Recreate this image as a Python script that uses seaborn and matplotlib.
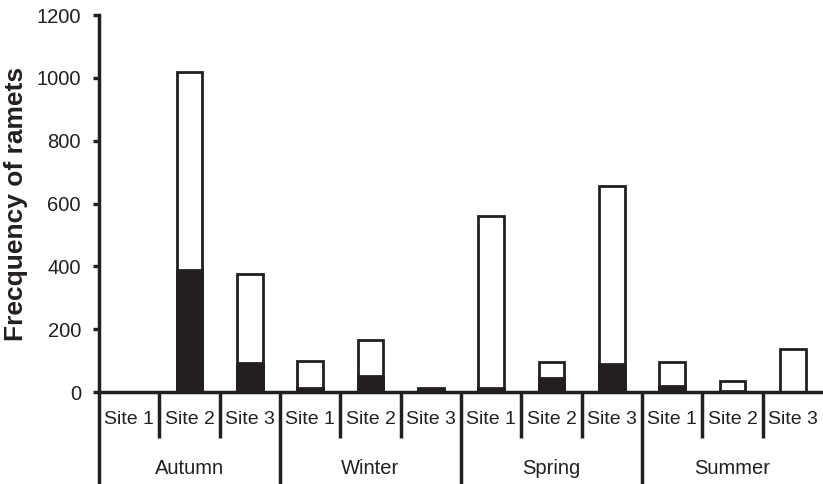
import matplotlib
matplotlib.use("Agg")
import matplotlib.pyplot as plt
import matplotlib.transforms as mtransforms
import seaborn as sns
import pandas as pd

seasons = ["Autumn", "Winter", "Spring", "Summer"]
sites = ["Site 1", "Site 2", "Site 3"]
total_ramets = [0, 1020, 375, 100, 165, 12, 560, 95, 655, 95, 35, 137]
black_ramets = [0, 390, 93, 12, 50, 10, 12, 45, 88, 20, 3, 0]
yticks = [0, 200, 400, 600, 800, 1000, 1200]

slots = [f"{s} {t}" for s in seasons for t in sites]
df = pd.DataFrame({"slot": slots, "total": total_ramets, "black": black_ramets})

sns.set_style("white")
plt.rcParams["font.family"] = ["Liberation Sans", "DejaVu Sans"]

DARK = "#231f20"
fig = plt.figure(figsize=(8.23, 4.84), dpi=100)
ax = fig.add_axes([0.1203, 0.190, 0.8797, 0.779])

sns.barplot(data=df, x="slot", y="total", order=slots, color="white",
            saturation=1, width=0.43, edgecolor=DARK, linewidth=2.0, ax=ax)
sns.barplot(data=df, x="slot", y="black", order=slots, color=DARK,
            saturation=1, width=0.43, edgecolor=DARK, linewidth=2.0, ax=ax)

n = len(slots)
ax.set_xlim(-0.5, n - 0.5)
ax.set_ylim(0, 1200)
ax.set_yticks(yticks)
ax.set_yticklabels([str(v) for v in yticks], fontsize=14.5, color=DARK)
ax.tick_params(axis="y", direction="out", length=4, width=2.4, color=DARK, pad=9, left=True)
ax.set_xticks([])
ax.set_xlabel("")
ax.set_ylabel("Frecquency of ramets", fontsize=19, fontweight="bold", color=DARK)
ax.yaxis.set_label_coords(-0.098, 0.5)

for side in ["top", "right"]:
    ax.spines[side].set_visible(False)
for side in ["left", "bottom"]:
    ax.spines[side].set_linewidth(2.5)
    ax.spines[side].set_color(DARK)

trans = mtransforms.blended_transform_factory(ax.transData, ax.transAxes)
for k in range(n):
    xb = k - 0.5
    low = -0.26 if k % 3 == 0 else -0.122
    ax.plot([xb, xb], [0, low], transform=trans, color=DARK, lw=2.5,
            clip_on=False, solid_capstyle="butt")

for i, slot in enumerate(slots):
    ax.text(i, -0.074, sites[i % 3], transform=trans, ha="center", va="center",
            fontsize=14, color=DARK)
for g, s in enumerate(seasons):
    ax.text(g * 3 + 1, -0.204, s, transform=trans, ha="center", va="center",
            fontsize=14.5, color=DARK)

fig.savefig("out.png", dpi=100)
